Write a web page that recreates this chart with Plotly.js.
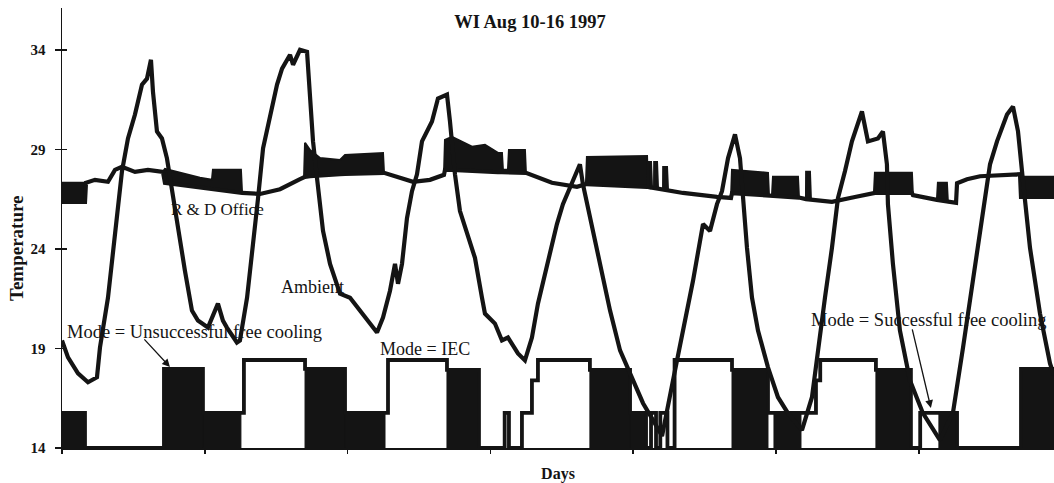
<!DOCTYPE html>
<html>
<head>
<meta charset="utf-8">
<script src="https://cdn.plot.ly/plotly-3.0.1.min.js"></script>
<style>
  html, body { margin: 0; padding: 0; background: #fff; }
  #chart { width: 1054px; height: 483px; }
</style>
</head>
<body>
<div id="chart"></div>
<script>
// Outdoor air temperature, hourly trace over the week (days from start)
const ambientDay = [0, 0.042, 0.112, 0.182, 0.245, 0.266, 0.322, 0.371, 0.420, 0.462, 0.511, 0.560, 0.595, 0.623, 0.637, 0.665, 0.700, 0.735, 0.770, 0.812, 0.861, 0.910, 0.952, 1.022, 1.092, 1.127, 1.155, 1.225, 1.246, 1.296, 1.338, 1.373, 1.408, 1.457, 1.506, 1.541, 1.597, 1.618, 1.667, 1.716, 1.737, 1.758, 1.786, 1.828, 1.877, 1.947, 2.017, 2.087, 2.157, 2.206, 2.248, 2.297, 2.332, 2.353, 2.381, 2.416, 2.451, 2.486, 2.521, 2.591, 2.633, 2.696, 2.717, 2.752, 2.787, 2.843, 2.892, 2.941, 2.962, 3.032, 3.081, 3.123, 3.193, 3.242, 3.291, 3.333, 3.382, 3.431, 3.466, 3.508, 3.557, 3.606, 3.627, 3.648, 3.697, 3.768, 3.838, 3.908, 3.999, 4.069, 4.139, 4.202, 4.279, 4.349, 4.419, 4.489, 4.538, 4.587, 4.622, 4.664, 4.713, 4.748, 4.769, 4.797, 4.832, 4.874, 4.944, 5.014, 5.084, 5.182, 5.252, 5.294, 5.343, 5.392, 5.434, 5.483, 5.532, 5.602, 5.644, 5.714, 5.749, 5.777, 5.784, 5.819, 5.868, 5.938, 6.029, 6.148, 6.239, 6.310, 6.380, 6.450, 6.499, 6.548, 6.618, 6.660, 6.695, 6.730, 6.779, 6.849, 6.919, 6.947];
const ambientTemp = [19.4, 18.55, 17.75, 17.3, 17.55, 19.05, 21.55, 24.55, 27.9, 29.55, 30.75, 32.25, 32.55, 33.5, 31.9, 29.9, 29.55, 28.55, 26.9, 24.9, 22.9, 20.9, 20.4, 20.05, 21.25, 20.4, 20.05, 19.3, 19.4, 21.55, 24.05, 26.55, 29.05, 30.75, 32.25, 33.05, 33.75, 33.25, 34.0, 33.9, 31.55, 29.4, 27.55, 24.9, 23.25, 21.75, 21.55, 20.9, 20.25, 19.8, 20.55, 21.9, 23.25, 22.25, 23.25, 25.55, 26.9, 27.75, 29.4, 30.4, 31.55, 31.75, 30.4, 27.75, 25.9, 24.55, 23.55, 21.55, 20.75, 20.25, 19.4, 19.55, 18.75, 18.4, 19.55, 21.25, 22.75, 24.05, 25.25, 26.25, 27.05, 27.9, 28.25, 27.25, 25.55, 23.25, 20.9, 18.9, 17.4, 16.25, 15.4, 14.6, 17.4, 19.9, 22.4, 25.25, 24.9, 26.25, 26.9, 28.55, 29.75, 28.55, 26.55, 24.05, 21.55, 19.9, 18.05, 16.55, 15.75, 14.9, 16.55, 19.05, 21.55, 24.05, 26.55, 27.9, 29.4, 30.9, 29.4, 29.55, 29.9, 28.25, 26.25, 23.25, 19.9, 17.4, 15.75, 14.4, 15.75, 19.05, 22.4, 25.75, 28.25, 29.4, 30.75, 31.15, 29.9, 27.4, 24.05, 20.75, 18.25, 17.65];

// R & D office temperature: lower trace and upper envelope where the thermostat cycles
const officeDay = [0, 0.161, 0.168, 0.231, 0.322, 0.371, 0.420, 0.511, 0.602, 0.707, 0.721, 0.966, 1.050, 1.057, 1.253, 1.261, 1.387, 1.527, 1.667, 1.695, 1.702, 1.737, 1.807, 1.947, 1.982, 2.248, 2.255, 2.458, 2.577, 2.675, 2.682, 2.731, 2.871, 2.962, 3.053, 3.081, 3.088, 3.123, 3.130, 3.242, 3.249, 3.431, 3.606, 3.669, 3.676, 4.097, 4.104, 4.105, 4.125, 4.132, 4.146, 4.147, 4.167, 4.174, 4.209, 4.210, 4.237, 4.244, 4.349, 4.587, 4.685, 4.692, 4.944, 4.951, 4.972, 4.979, 5.154, 5.161, 5.210, 5.211, 5.238, 5.245, 5.392, 5.553, 5.686, 5.693, 5.952, 5.959, 6.127, 6.134, 6.197, 6.204, 6.261, 6.268, 6.338, 6.429, 6.709, 6.716, 6.947];
const officeLow = [26.36, 26.36, 27.32, 27.47, 27.37, 27.97, 28.12, 27.87, 27.97, 27.87, 27.32, 27.07, 27.0, 27.0, 26.81, 26.81, 26.76, 27.0, 27.5, 27.62, 27.62, 27.65, 27.7, 27.75, 27.77, 27.82, 27.82, 27.37, 27.47, 27.72, 27.97, 27.97, 27.9, 27.88, 27.85, 27.85, 27.85, 27.84, 27.84, 27.82, 27.82, 27.32, 27.12, 27.25, 27.25, 27.12, 27.1, 27.1, 27.08, 27.08, 27.06, 27.06, 27.05, 27.04, 27.0, 27.0, 26.98, 26.97, 26.81, 26.61, 26.56, 26.8, 26.7, 26.7, 26.68, 26.65, 26.6, 26.58, 26.5, 26.5, 26.48, 26.47, 26.36, 26.61, 26.81, 26.81, 26.81, 26.7, 26.46, 26.45, 26.4, 26.35, 26.31, 27.3, 27.5, 27.65, 27.75, 26.61, 26.61];
const officeHigh = [27.32, 27.32, 27.32, 27.47, 27.37, 27.97, 28.12, 27.87, 27.97, 27.87, 28.02, 27.57, 27.47, 27.97, 27.97, 26.81, 26.76, 27.0, 27.5, 27.62, 29.33, 28.97, 28.57, 28.47, 28.72, 28.82, 27.82, 27.37, 27.47, 27.72, 29.48, 29.63, 29.13, 29.23, 28.82, 28.82, 27.97, 27.97, 28.97, 28.97, 27.82, 27.32, 27.12, 27.25, 28.62, 28.67, 27.1, 28.37, 28.37, 27.08, 27.06, 28.37, 28.37, 27.04, 27.0, 28.12, 28.12, 26.97, 26.81, 26.61, 26.56, 27.97, 27.82, 26.7, 26.68, 27.62, 27.62, 26.58, 26.5, 27.87, 27.87, 26.47, 26.36, 26.61, 26.81, 27.82, 27.82, 26.7, 26.46, 27.32, 27.32, 26.35, 26.31, 27.3, 27.5, 27.65, 27.75, 27.62, 27.62];

// Operating mode, plotted as a step level; "dense" periods cycle too fast to resolve and print solid
const modeStart = [0, 0.161, 0.714, 0.987, 1.253, 1.274, 1.702, 1.982, 2.262, 2.283, 2.696, 2.920, 3.100, 3.130, 3.221, 3.291, 3.333, 3.697, 3.978, 4.090, 4.125, 4.160, 4.190, 4.240, 4.290, 4.692, 4.944, 4.986, 5.175, 5.280, 5.310, 5.700, 5.945, 6.010, 6.141, 6.268, 6.716];
const modeEnd = [0.161, 0.714, 0.987, 1.253, 1.274, 1.702, 1.982, 2.262, 2.283, 2.696, 2.920, 3.100, 3.130, 3.221, 3.291, 3.333, 3.697, 3.978, 4.090, 4.125, 4.160, 4.190, 4.240, 4.290, 4.692, 4.944, 4.986, 5.175, 5.280, 5.310, 5.700, 5.945, 6.010, 6.141, 6.268, 6.716, 6.947];
const modeLevel = [15.76, 14, 17.97, 15.76, 15.76, 18.42, 17.97, 15.76, 15.76, 18.42, 17.92, 14, 15.76, 14, 15.76, 17.4, 18.42, 17.92, 15.76, 14, 15.76, 14, 15.76, 14, 18.42, 17.92, 15.76, 15.76, 15.76, 17.4, 18.42, 17.92, 14, 15.76, 15.76, 14, 17.97];
const modeDense = [1, 0, 1, 1, 0, 0, 1, 1, 0, 0, 1, 0, 0, 0, 0, 0, 0, 1, 1, 0, 0, 0, 0, 0, 0, 1, 0, 1, 0, 0, 0, 1, 0, 0, 1, 0, 1];

const yTicks = [14, 19, 24, 29, 34];
const dayTicks = [0, 1, 2, 3, 4, 5, 6];

const INK = '#141414';
const SERIF = '"Liberation Serif", "Times New Roman", serif';
const BASE = 14;

// step outline of the mode signal
const stepX = modeStart.concat([modeEnd[modeEnd.length - 1]]);
const stepY = modeLevel.concat([modeLevel[modeLevel.length - 1]]);

// solid blocks for the fast-cycling periods
const denseX = [], denseY = [];
modeStart.forEach((s, i) => {
  if (!modeDense[i]) return;
  const e = modeEnd[i], v = modeLevel[i];
  denseX.push(s, s, e, e, s, null);
  denseY.push(BASE, v, v, BASE, BASE, null);
});

const traces = [
  { x: denseX, y: denseY, mode: 'lines', fill: 'toself', fillcolor: INK,
    line: { color: INK, width: 1 }, hoverinfo: 'skip', showlegend: false },
  { x: stepX, y: stepY, mode: 'lines', line: { color: INK, width: 3.8, shape: 'hv' },
    name: 'Mode', showlegend: false },
  { x: officeDay, y: officeLow, mode: 'lines', line: { color: INK, width: 4.2 },
    name: 'R & D Office', showlegend: false },
  { x: officeDay, y: officeHigh, mode: 'lines', fill: 'tonexty', fillcolor: INK,
    line: { color: INK, width: 2 }, hoverinfo: 'skip', showlegend: false },
  { x: ambientDay, y: ambientTemp, mode: 'lines', line: { color: INK, width: 4.2 },
    name: 'Ambient', showlegend: false }
];

const label = (text, x, y, size) => ({
  text: text, x: x, y: y, xref: 'x', yref: 'y', showarrow: false,
  xanchor: 'center', yanchor: 'middle',
  font: { family: SERIF, size: size, color: INK }
});
const pointer = (x0, y0, x1, y1) => ({
  text: '', x: x1, y: y1, ax: x0, ay: y0, xref: 'x', yref: 'y', axref: 'x', ayref: 'y',
  showarrow: true, arrowhead: 2, arrowsize: 1.2, arrowwidth: 1.3, arrowcolor: INK
});

const layout = {
  width: 1054, height: 483,
  margin: { l: 62, r: 0, t: 8, b: 35 },
  paper_bgcolor: '#ffffff', plot_bgcolor: '#ffffff',
  showlegend: false,
  title: {
    text: '<b>WI Aug 10-16 1997</b>',
    x: 530 / 1054, xref: 'container', xanchor: 'center',
    y: 1 - 22 / 483, yref: 'container', yanchor: 'middle',
    font: { family: SERIF, size: 18.5, color: INK }
  },
  xaxis: {
    range: [0, 6.947], showgrid: false, zeroline: false,
    showline: true, linecolor: INK, linewidth: 1.5,
    tickmode: 'array', tickvals: dayTicks, ticks: 'outside', ticklen: 4, tickwidth: 1.5, tickcolor: INK,
    showticklabels: false,
    title: { text: '<b>Days</b>', standoff: 18, font: { family: SERIF, size: 16, color: INK } }
  },
  yaxis: {
    range: [14, 36.1], showgrid: false, zeroline: false,
    showline: true, linecolor: INK, linewidth: 1.5,
    tickmode: 'array', tickvals: yTicks, ticks: 'outside', ticklen: 6, tickwidth: 1.5, tickcolor: INK,
    tickfont: { family: SERIF, size: 15, color: INK, weight: 'bold' },
    ticklabelstandoff: 6,
    title: { text: '' }
  },
  yaxis2: {
    overlaying: 'y', side: 'left', range: [14, 36.1], showgrid: false, zeroline: false,
    showline: false, tickmode: 'array', tickvals: yTicks, ticks: 'inside', ticklen: 5,
    tickwidth: 1.5, tickcolor: INK, showticklabels: false
  },
  annotations: [
    // vertical axis caption, set slightly below the middle of the axis
    { text: '<b>Temperature</b>', textangle: -90, xref: 'paper', yref: 'paper',
      x: -45 / 992, y: 200 / 440, xanchor: 'center', yanchor: 'middle', showarrow: false,
      font: { family: SERIF, size: 19, color: INK } },
    label('R &amp; D Office', 1.092, 26.0, 17),
    label('Ambient', 1.751, 22.09, 18),
    label('Mode = Unsuccessful free cooling', 0.931, 19.83, 18.5),
    label('Mode = IEC', 2.542, 18.97, 18),
    label('Mode = Successful free cooling', 6.071, 20.43, 18.5),
    pointer(0.567, 19.53, 0.756, 18.07),
    pointer(5.952, 20.03, 6.085, 16.01)
  ]
};

// an empty trace keeps the inner tick marks axis on the chart
traces.push({ x: [null], y: [null], yaxis: 'y2', mode: 'lines', hoverinfo: 'skip', showlegend: false });

Plotly.newPlot('chart', traces, layout, { displayModeBar: false, staticPlot: true });
</script>
</body>
</html>
